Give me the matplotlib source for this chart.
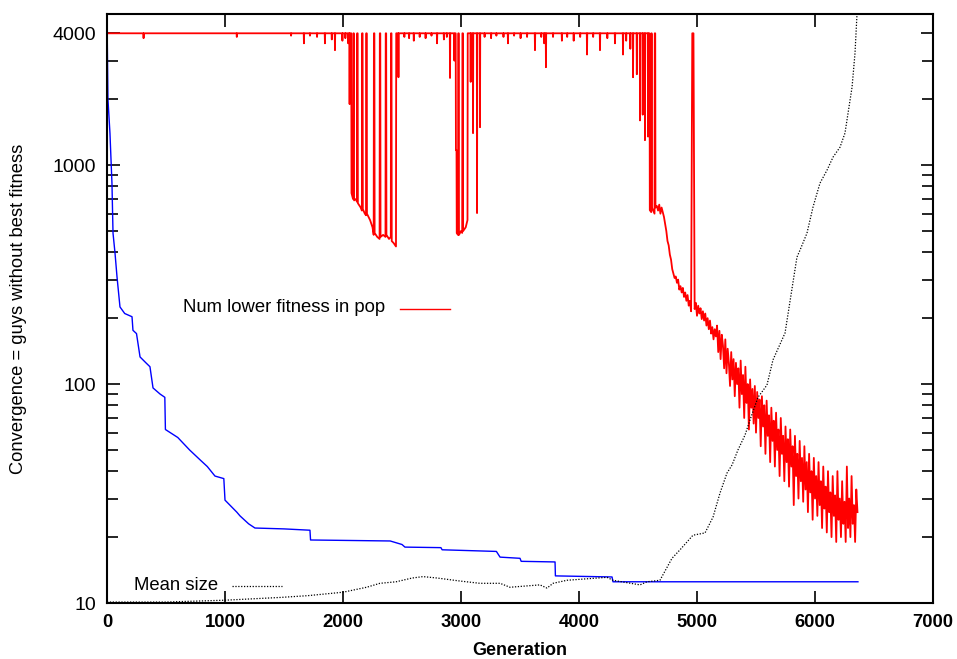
import numpy as np
import matplotlib
matplotlib.use("Agg")
import matplotlib.pyplot as plt
from matplotlib.ticker import FixedLocator, NullFormatter

plt.rcParams['font.family'] = ['Liberation Sans', 'DejaVu Sans']

# Num lower fitness in pop
# narrow dips below the 4000 plateau: (generation, value)
plateau_dips = [(310, 3800), (1100, 3850), (1560, 3900), (1669, 3600), (1720, 3900), (1780, 3850),
                (1847, 3600), (1905, 3750), (1932, 3350), (1995, 3700), (2020, 3800), (2470, 2520),
                (2520, 3850), (2560, 3800), (2600, 3700), (2650, 3850), (2700, 3800), (2750, 3900),
                (2797, 3600), (2855, 3750), (2880, 3850), (2907, 2500), (3200, 3850), (3255, 3800),
                (3300, 3900), (3360, 3850), (3398, 3600), (3450, 3900), (3505, 3800), (3560, 3850),
                (3627, 3350), (3680, 3850), (3705, 3600), (3720, 2800), (3780, 3850), (3855, 3700),
                (3900, 3850), (3955, 3700), (4010, 3850), (4068, 3200), (4120, 3850), (4178, 3350),
                (4240, 3800), (4305, 3600), (4373, 3200), (4400, 3700), (4435, 3400)]

# the three deep dip phases (generation, value)
dip1_gen = [2040, 2044, 2048, 2054, 2056, 2058, 2070, 2072, 2085, 2088, 2092, 2094, 2110, 2118, 2120,
            2124, 2126, 2150, 2160, 2162, 2166, 2168, 2185, 2195, 2197, 2201, 2203, 2230, 2250, 2260,
            2262, 2266, 2268, 2290, 2310, 2312, 2316, 2318, 2340, 2360, 2362, 2366, 2368, 2390, 2405,
            2407, 2411, 2413, 2430, 2449, 2451]
dip1_val = [4000, 3600, 4000, 4000, 1900, 4000, 4000, 745, 700, 4000, 4000, 690, 700, 680, 4000,
            4000, 670, 640, 620, 4000, 4000, 630, 600, 590, 4000, 4000, 600, 560, 520, 480,
            4000, 4000, 490, 470, 460, 4000, 4000, 470, 480, 470, 4000, 4000, 480, 460, 470,
            4000, 4000, 450, 440, 425, 4000]
dip2_gen = [2940, 2944, 2948, 2955, 2957, 2962, 2964, 2975, 2977, 2981, 2983, 3000, 3010, 3012, 3016,
            3018, 3040, 3055, 3057, 3080, 3082, 3084, 3100, 3102, 3104, 3134, 3136, 3138, 3159, 3161,
            3163]
dip2_val = [4000, 3000, 4000, 4000, 1170, 1170, 489, 480, 4000, 4000, 480, 500, 490, 4000, 4000,
            500, 520, 561, 4000, 4000, 2400, 4000, 4000, 1400, 4000, 4000, 604, 4000, 4000, 1490,
            4000]
dip3_gen = [4456, 4458, 4460, 4488, 4490, 4492, 4515, 4517, 4519, 4538, 4540, 4542, 4557, 4559, 4561,
            4583, 4585, 4587, 4598, 4600, 4612, 4614, 4616, 4618, 4640, 4642, 4646, 4648]
dip3_val = [4000, 2520, 4000, 4000, 2600, 4000, 4000, 1600, 4000, 4000, 1700, 4000, 4000, 1300, 4000,
            4000, 1350, 4000, 4000, 623, 610, 4000, 4000, 640, 600, 4000, 4000, 640]

# decay phase, one value every 10 generations from 4660 to 6360
decay_val = [650, 620, 660, 600, 640, 610, 580, 540, 500, 450, 430, 390, 370, 335, 320, 305, 310, 290,
             300, 270, 280, 262, 275, 250, 262, 240, 255, 228, 240, 215, 4000, 4000, 220, 235, 205,
             228, 210, 222, 198, 215, 195, 210, 185, 200, 178, 195, 170, 182, 160, 178,
             165, 185, 140, 175, 130, 168, 150, 118, 160, 112, 145, 125, 98, 140, 105, 130, 88, 125,
             100, 118, 78, 128, 90, 110, 70, 120, 82, 100, 62, 105, 78, 95, 66, 98, 60,
             92, 70, 85, 52, 88, 64, 80, 48, 84, 58, 72, 44, 78, 55, 68, 42, 74, 50, 62, 38,
             70, 48, 58, 36, 64, 44, 56, 34, 62, 42, 52, 28, 58, 38, 48, 30, 55, 36, 46, 29,
             52, 33, 44, 26, 48, 32, 40, 24, 46, 30, 38, 25, 44, 28, 36, 22, 42, 27, 34, 21,
             40, 26, 32, 20, 38, 25, 31, 19, 40, 24, 30, 20, 36, 23, 29, 19, 42, 22, 30, 20,
             38, 23, 28, 19, 33, 26]
decay_gen = list(range(4660, 4660 + 10 * len(decay_val), 10))

# convergence (no key entry)
blue_gen = [0, 8, 25, 42, 51, 68, 85, 110, 150, 212, 220, 250, 280, 330, 364, 390, 450, 490, 495,
            600, 700, 790, 850, 915, 990, 1000, 1100, 1127, 1200, 1254, 1500, 1720, 1725, 2400,
            2500, 2525, 2830, 2840, 3300, 3331, 3500, 3510, 3797, 3800, 4280, 4288, 6364]
blue_val = [4800, 2000, 1400, 827, 489, 396, 308, 225, 210, 203, 176, 170, 133, 125, 120, 96, 90, 87, 62,
            57, 50, 45, 42, 38, 37, 29.5, 26, 25, 23, 22, 21.8, 21.5, 19.4, 19.2,
            18.5, 18.0, 17.9, 17.5, 17.2, 16.2, 16.0, 15.5, 15.4, 13.3, 13.15, 12.5, 12.5]

# mean size
mean_gen = [0, 500, 1000, 1466, 1700, 2000, 2200, 2313, 2450, 2585, 2678, 2800, 2991, 3161, 3331,
            3415, 3669, 3729, 3780, 3898, 4153, 4237, 4288, 4517, 4576, 4686, 4788, 4856, 4966,
            5068, 5136, 5195, 5254, 5297, 5347, 5407, 5449, 5517, 5593, 5644, 5746, 5847, 5873,
            5932, 5983, 6042, 6102, 6153, 6212, 6254, 6280, 6314, 6339, 6356]
mean_val = [10.1, 10.1, 10.3, 10.6, 10.8, 11.2, 11.8, 12.3, 12.5, 13.0, 13.2, 13.0, 12.6, 12.3, 12.3,
            11.8, 12.1, 11.7, 12.3, 12.7, 13.0, 13.1, 12.7, 12.1, 12.5, 12.7, 16.0, 17.5, 20.4,
            20.9, 24.7, 31.8, 39.2, 42.7, 50, 58.5, 68.5, 87, 99, 129, 171, 380, 409,
            489, 643, 827, 949, 1088, 1208, 1400, 1727, 2270, 3245, 4900]

y_ticks = [10, 100, 1000, 4000]
y_ticklabels = ['10', '100', '1000', '4000']
x_ticks = [0, 1000, 2000, 3000, 4000, 5000, 6000, 7000]


def build_red():
    # plateau at 4000 with narrow dips, then the deep dip phases, then the decay
    pts = [(0, 4000)]
    for g, v in plateau_dips:
        pts += [(g - 2, 4000), (g, v), (g + 2, 4000)]
    pts += list(zip(dip1_gen, dip1_val))
    pts += list(zip(dip2_gen, dip2_val))
    pts += list(zip(dip3_gen, dip3_val))
    pts.sort(key=lambda p: p[0])
    pts += list(zip(decay_gen, decay_val))
    gen = [p[0] for p in pts]
    val = [p[1] for p in pts]
    return gen, val


fig = plt.figure(figsize=(9.57, 6.59), dpi=100)
ax = fig.add_axes([107 / 957, 1 - 603 / 659, 826 / 957, 589 / 659])

red_gen, red_val = build_red()
ax.plot(red_gen, red_val, color='#ff0000', lw=1.3)
ax.plot(blue_gen, blue_val, color='#0000ff', lw=1.0)
ax.plot(mean_gen, mean_val, color='black', lw=0.9, linestyle=(0, (1, 1.3)))

ax.set_yscale('log')
ax.set_xlim(0, 7000)
ax.set_ylim(10, 4900)

ax.set_xticks(x_ticks)
ax.set_xticklabels([str(v) for v in x_ticks], fontweight='bold', fontsize=13.3)
ax.yaxis.set_major_locator(FixedLocator(y_ticks))
ax.set_yticklabels(y_ticklabels, fontsize=14)
minors = [m * d for d in (10, 100) for m in range(2, 10)] + [2000, 3000]
ax.yaxis.set_minor_locator(FixedLocator(minors))
ax.yaxis.set_minor_formatter(NullFormatter())

ax.tick_params(axis='both', which='major', direction='in', length=9, width=1.2,
               top=True, right=True)
ax.tick_params(axis='y', which='minor', direction='in', length=8, width=1.2, right=True)
ax.tick_params(axis='x', which='major', pad=8)
ax.tick_params(axis='y', which='major', pad=8)
for s in ax.spines.values():
    s.set_linewidth(1.5)

ax.set_xlabel('Generation', fontsize=13, fontweight='bold', labelpad=8)
ax.set_ylabel('Convergence = guys without best fitness', fontsize=13.2, labelpad=18)

# keys
ax.text(0.3366, 0.5025, 'Num lower fitness in pop', transform=ax.transAxes,
        ha='right', va='center', fontsize=13.3)
ax.plot([0.3547, 0.415], [0.499, 0.499], transform=ax.transAxes, color='#ff0000', lw=1.0)
ax.text(0.1344, 0.0289, 'Mean size', transform=ax.transAxes,
        ha='right', va='center', fontsize=13.3)
ax.plot([0.151, 0.212], [0.0289, 0.0289], transform=ax.transAxes, color='black', lw=0.9,
        linestyle=(0, (1, 1.3)))

fig.savefig('out.png', dpi=100)
